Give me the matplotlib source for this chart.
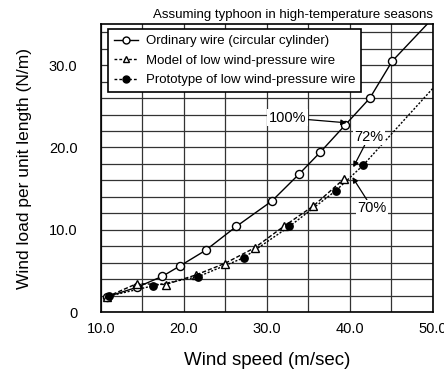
import numpy as np
import matplotlib.pyplot as plt

plt.rcParams['font.family'] = ['Liberation Sans', 'DejaVu Sans']

# Ordinary wire (circular cylinder)
ord_x = [10.7, 14.3, 17.4, 19.5, 22.6, 26.3, 30.6, 33.9, 36.4, 39.4, 42.4, 45.1]
ord_y = [1.85, 3.0, 4.35, 5.6, 7.5, 10.4, 13.5, 16.8, 19.4, 22.7, 26.0, 30.5]
ord_tail_x = [45.1, 49.6]
ord_tail_y = [30.5, 35.3]

# Model of low wind-pressure wire
mod_x = [10.7, 14.3, 17.8, 21.4, 24.9, 28.5, 32.0, 35.6, 39.3]
mod_y = [1.85, 3.45, 3.35, 4.5, 5.9, 7.8, 10.4, 12.9, 16.2]

# Prototype of low wind-pressure wire
pro_x = [11.0, 16.3, 21.7, 27.2, 32.7, 38.3, 41.6]
pro_y = [1.95, 3.2, 4.3, 6.6, 10.4, 14.75, 17.85]
pro_tail_x = [41.6, 50.0]
pro_tail_y = [17.85, 27.2]

fig = plt.figure(figsize=(4.44, 3.76), dpi=100)
ax = fig.add_axes([0.2275, 0.170, 0.7475, 0.766])

ax.set_xlim(10, 50)
ax.set_ylim(0, 35)
ax.set_xticks(np.arange(15, 50, 5), minor=True)
ax.set_yticks(np.arange(2, 35, 2), minor=True)
ax.set_xticks([10, 20, 30, 40, 50])
ax.set_xticklabels(['10.0', '20.0', '30.0', '40.0', '50.0'])
ax.set_yticks([0, 10, 20, 30])
ax.set_yticklabels(['0', '10.0', '20.0', '30.0'])
ax.tick_params(which='both', length=0, labelsize=10.5)
ax.tick_params(axis='x', pad=7)
ax.tick_params(axis='y', pad=17)
ax.grid(which='both', color='#333333', linewidth=0.9)
ax.set_axisbelow(True)
for s in ax.spines.values():
    s.set_linewidth(1.2)

ax.plot(ord_tail_x, ord_tail_y, color='black', lw=1.0)
ax.plot(mod_x, mod_y, color='black', lw=1.0, dashes=(3, 1.5))
ax.plot(pro_x, pro_y, color='black', lw=1.0, dashes=(1.5, 1.2))
ax.plot(pro_tail_x, pro_tail_y, color='black', lw=1.0, dashes=(1.5, 1.2))
ax.plot(ord_x, ord_y, color='black', lw=1.0, marker='o', ms=5.8, mfc='white', mec='black')
ax.plot(mod_x, mod_y, color='black', lw=0, marker='^', ms=6, mfc='white', mec='black')
ax.plot(pro_x, pro_y, color='black', lw=0, marker='o', ms=5.3, mfc='black', mec='black')

# legend handles
l1, = ax.plot([], [], color='black', lw=1.0, marker='o', ms=5, mfc='white', mec='black')
l2, = ax.plot([], [], color='black', lw=1.0, dashes=(2, 1.5), marker='^', ms=5,
              mfc='white', mec='black')
l3, = ax.plot([], [], color='black', lw=1.0, dashes=(2, 1.5), marker='o', ms=5,
              mfc='black', mec='black')
leg = ax.legend([l1, l2, l3],
                ['Ordinary wire (circular cylinder)', 'Model of low wind-pressure wire',
                 'Prototype of low wind-pressure wire'],
                loc='upper left', bbox_to_anchor=(7 / 332, 1 - 5 / 288), borderaxespad=0,
                fontsize=9.5, fancybox=False, framealpha=1, edgecolor='black',
                handlelength=1.8, handletextpad=0.6, borderpad=0.45, labelspacing=0.55)
leg.get_frame().set_linewidth(1.2)

box = dict(facecolor='white', edgecolor='none', pad=1)
arrow = dict(arrowstyle='-|>', color='black', lw=0.9, mutation_scale=8, shrinkA=0, shrinkB=0)
ax.annotate('100%', xy=(39.6, 23.0), xytext=(32.5, 23.6), fontsize=10.5,
            ha='center', va='center', bbox=box, arrowprops=arrow)
ax.annotate('72%', xy=(40.4, 17.6), xytext=(42.3, 21.3), fontsize=10.5,
            ha='center', va='center', bbox=box, arrowprops=arrow)
ax.annotate('70%', xy=(40.3, 16.4), xytext=(42.7, 12.6), fontsize=10.5,
            ha='center', va='center', bbox=box, arrowprops=arrow)

ax.text(1.0, 1.012, 'Assuming typhoon in high-temperature seasons', transform=ax.transAxes,
        ha='right', va='bottom', fontsize=9.5)

ax.set_xlabel('Wind speed (m/sec)', fontsize=13.5, labelpad=12)
ax.set_ylabel('Wind load per unit length (N/m)', fontsize=12.5, labelpad=12)

fig.savefig('out.png', dpi=100)
